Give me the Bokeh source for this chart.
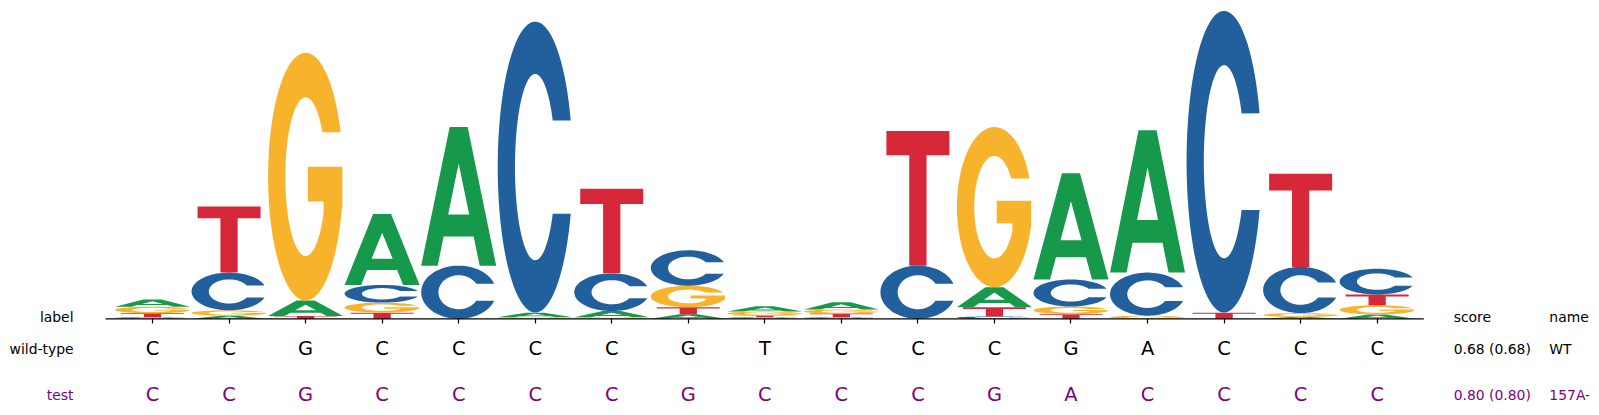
import numpy as np
from bokeh.core.properties import value
from bokeh.plotting import figure
from bokeh.models import ColumnDataSource, FixedTicker, Range1d
from bokeh.embed import file_html
from bokeh.resources import INLINE

# sequence positions and the two sequences under the logo
positions = list(range(1, 18))
wild_type = list("CCGCCCCGTCCCGACCC")
test_seq = list("CCGCCCCGCCCGACCCC")

# letter heights (bits) per position
bits_A = [0.047, 0.020, 0.100, 0.460, 0.900, 0.030, 0.040, 0.030, 0.035, 0.047,
          0.000, 0.130, 0.690, 0.925, 0.000, 0.012, 0.028]
bits_C = [0.010, 0.245, 0.000, 0.115, 0.345, 1.890, 0.245, 0.230, 0.010, 0.010,
          0.345, 0.015, 0.175, 0.280, 1.960, 0.300, 0.167]
bits_G = [0.043, 0.035, 1.610, 0.065, 0.000, 0.010, 0.010, 0.140, 0.025, 0.026,
          0.000, 1.040, 0.050, 0.020, 0.000, 0.025, 0.060]
bits_T = [0.026, 0.430, 0.018, 0.040, 0.000, 0.000, 0.550, 0.045, 0.012, 0.024,
          0.875, 0.060, 0.030, 0.000, 0.040, 0.605, 0.070]

row_labels = ["label", "wild-type", "test"]
score_header = ["score", "name"]
scores = ["0.68 (0.68)", "0.80 (0.80)"]
names = ["WT", "157A-"]

colors = {"A": "#16994A", "C": "#22609D", "G": "#F7B32B", "T": "#D62839"}
purple = "#800080"

# rows below the logo (bits, text baseline) and text columns (x in positions)
row_y = [0.012, -0.196, -0.494]
label_x = -0.032
score_x = 18.0
name_x = 19.25


def arc(rx, ry, a0, a1, n=80):
    t = np.radians(np.linspace(a0, a1, n))
    return list(0.5 + rx * np.cos(t)), list(0.5 + ry * np.sin(t))


def letter_shape(letter):
    # unit-box outlines of the four letters: list of rings (outer, holes)
    if letter == "A":
        return [([0, 0.38, 0.62, 1, 0.78, 0.70, 0.30, 0.22],
                 [0, 1, 1, 0, 0, 0.21, 0.21, 0]),
                ([0.36, 0.5, 0.64], [0.37, 0.737, 0.37])]
    if letter == "T":
        return [([0.08, 0.92, 0.92, 0.615, 0.615, 0.385, 0.385, 0.08],
                 [1, 1, 0.82, 0.82, 0, 0, 0.82, 0.82])]
    if letter == "C":
        ox, oy = arc(0.5, 0.5, 18.7, 341.3)
        ix, iy = arc(0.27, 0.32, 330, 30)
        return [(ox + ix, oy + iy)]
    ox, oy = arc(0.5, 0.5, 21, 345)
    ix, iy = arc(0.27, 0.32, 333, 34)
    return [(ox + [0.99, 0.99, 0.53, 0.53, 0.74, 0.74] + ix,
             oy + [0.37, 0.54, 0.54, 0.40, 0.40, 0.355] + iy)]


heights = {"A": bits_A, "C": bits_C, "G": bits_G, "T": bits_T}
xs, ys, fills = [], [], []
for i, pos in enumerate(positions):
    stack = sorted(((heights[l][i], l) for l in "ACGT"), key=lambda s: s[0])
    bottom = 0.0
    for h, l in stack:
        if h <= 0:
            continue
        rings_x, rings_y = [], []
        for ux, uy in letter_shape(l):
            rings_x.append([pos - 0.49 + u * 0.98 for u in ux])
            rings_y.append([bottom + v * h for v in uy])
        xs.append([rings_x])
        ys.append([rings_y])
        fills.append(colors[l])
        bottom += h

src = ColumnDataSource(data=dict(xs=xs, ys=ys, color=fills))

p = figure(width=1599, height=415, x_range=Range1d(-0.986, 19.905),
           y_range=Range1d(-0.628, 2.067), output_backend="svg", toolbar_location=None,
           y_axis_location=None, min_border=0)
p.xgrid.visible = False
p.ygrid.visible = False
p.outline_line_color = None

p.multi_polygons(xs="xs", ys="ys", source=src, fill_color="color", line_color=None)

# baseline under the logo, spanning the logo columns only
p.segment(x0=[positions[0] - 0.614], x1=[positions[-1] + 0.61], y0=[0], y1=[0],
          line_color="black", line_width=1.2)

ax = p.xaxis[0]
ax.fixed_location = 0
ax.ticker = FixedTicker(ticks=positions)
ax.axis_line_color = None
ax.major_tick_line_color = "black"
ax.major_tick_line_width = 1.2
ax.major_tick_out = 5
ax.major_tick_in = 0
ax.minor_tick_line_color = None
ax.major_label_text_color = None

font = value("DejaVu Sans")
p.text(x=positions, y=[row_y[1]] * len(positions), text=wild_type, text_font=font,
       text_font_size="19.4px", text_align="center", text_baseline="alphabetic",
       text_color="black")
p.text(x=positions, y=[row_y[2]] * len(positions), text=test_seq, text_font=font,
       text_font_size="19.4px", text_align="center", text_baseline="alphabetic",
       text_color=purple)

p.text(x=[label_x] * 3, y=row_y, text=row_labels, text_font=font,
       text_font_size="13.9px", text_align="right", text_baseline="alphabetic",
       text_color=["black", "black", purple])
p.text(x=[score_x, name_x], y=[row_y[0]] * 2, text=score_header, text_font=font,
       text_font_size="13.9px", text_align="left", text_baseline="alphabetic",
       text_color="black")
p.text(x=[score_x] * 2 + [name_x] * 2, y=row_y[1:] * 2, text=scores + names,
       text_font=font, text_font_size="13.9px", text_align="left",
       text_baseline="alphabetic", text_color=["black", purple] * 2)

open("out.html", "w").write(file_html(p, INLINE))
